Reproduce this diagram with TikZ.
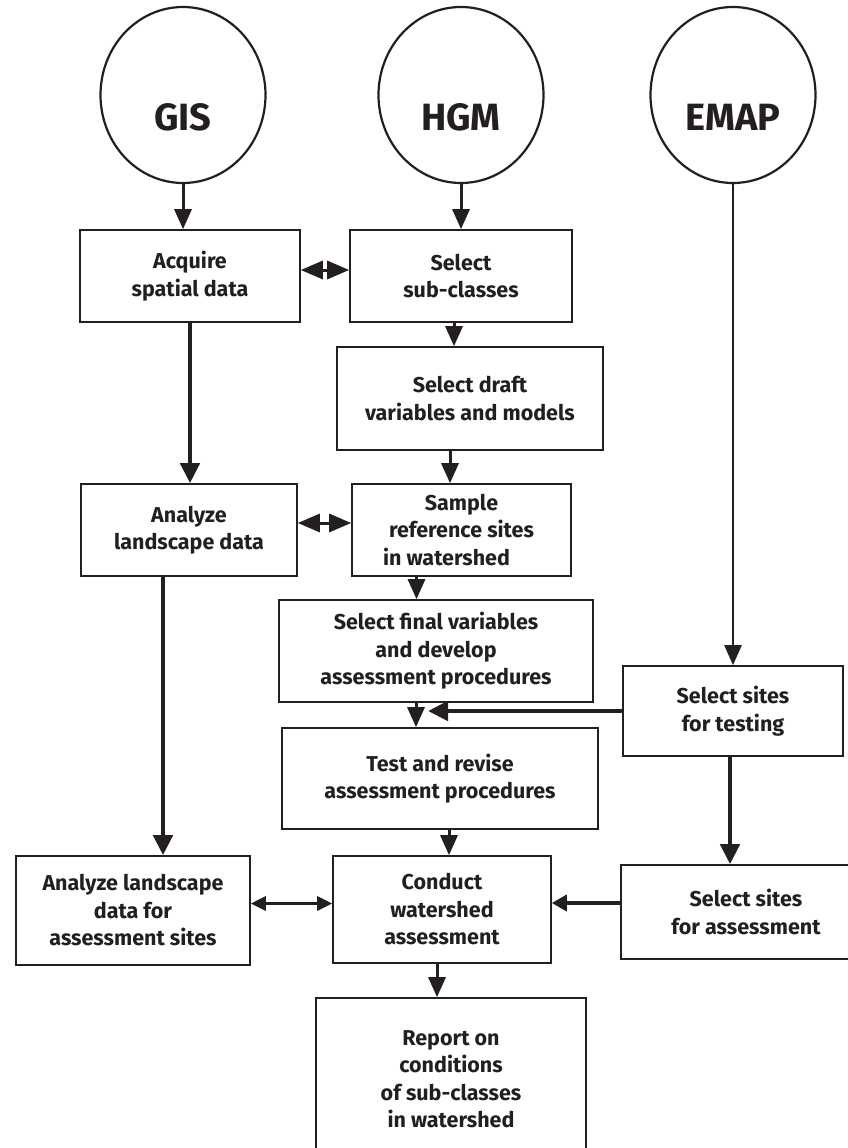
\documentclass[tikz,border=0pt]{standalone}
\usepackage{fontspec}
\setmainfont{Fira Sans}
\usetikzlibrary{arrows.meta,shapes.geometric}
\definecolor{ink}{HTML}{231F20}
\begin{document}
\begin{tikzpicture}[x=1pt,y=-1pt,
  box/.style={draw=ink,line width=1.6pt,rectangle,inner sep=0pt,align=center,
    font=\bfseries\fontsize{21.5}{27.5}\selectfont,text=ink},
  src/.style={draw=ink,line width=2.2pt,ellipse,inner sep=0pt,
    minimum width=165pt,minimum height=176pt},
  srclabel/.style={font=\bfseries\fontsize{38}{40}\selectfont,text=ink,yshift=-22pt},
  flow/.style={draw=ink,line width=3pt,-{Triangle[length=20pt,width=17pt]}},
  flowthin/.style={draw=ink,line width=2.4pt,-{Triangle[length=20pt,width=17pt]}},
  flowthick/.style={draw=ink,line width=4.5pt,-{Triangle[length=20pt,width=19pt]}},
  flowthickshort/.style={draw=ink,line width=4.5pt,-{Triangle[length=15pt,width=16pt]}},
  dbl/.style={draw=ink,line width=3pt,{Triangle[length=22pt,width=18pt]}-{Triangle[length=22pt,width=18pt]}},
  dblsmall/.style={draw=ink,line width=3pt,{Triangle[length=15pt,width=14pt]}-{Triangle[length=15pt,width=14pt]}}
]
\useasboundingbox (0,0) rectangle (848,1148);
\fill[white] (0,0) rectangle (848,1148);
\clip (0,0) rectangle (848,1148);

% sources
\node[src,label={[srclabel]center:GIS}] (gis) at (183,95) {};
\node[src,label={[srclabel]center:HGM}] (hgm) at (461,95) {};
\node[src,label={[srclabel]center:EMAP}] (emap) at (733,95) {};

% boxes
\node[box,minimum width=220pt,minimum height=92pt] (acq) at (190,276) {Acquire\\spatial data};
\node[box,minimum width=222pt,minimum height=92pt] (sub) at (461,276) {Select\\sub-classes};
\node[box,minimum width=266pt,minimum height=103pt] (draft) at (470,398.5) {Select draft\\variables and models};
\node[box,minimum width=216pt,minimum height=92pt] (ald) at (189,530) {Analyze\\landscape data};
\node[box,minimum width=219pt,minimum height=92pt] (samp) at (461.5,530) {Sample\\reference sites\\in watershed\hspace*{30pt}};
\node[box,minimum width=314pt,minimum height=102pt] (fin) at (436,651) {Select final variables\\and develop\\assessment procedures};
\node[box,minimum width=220pt,minimum height=90pt] (sst) at (733,711) {Select sites\\for testing};
\node[box,minimum width=316pt,minimum height=101pt] (test) at (440,778.5) {Test and revise\\assessment procedures};
\node[box,minimum width=234pt,minimum height=109pt] (alda) at (133,910.5) {Analyze landscape\\data for\\assessment sites};
\node[box,minimum width=218pt,minimum height=107pt] (cond) at (442,909.5) {Conduct\\watershed\\assessment};
\node[box,minimum width=250pt,minimum height=94pt] (ssa) at (746,912) {Select sites\\for assessment};
\node[box,minimum width=270pt,minimum height=162pt] (rep) at (451,1079) {Report on\\conditions\\of sub-classes\\in watershed};

% connectors
\draw[flow] (gis.south) -- (gis.south |- acq.north);
\draw[flow] (hgm.south) -- (hgm.south |- sub.north);
\draw[dbl] ([yshift=6pt]acq.east) -- ([yshift=6pt]sub.west);
\draw[flow] ([xshift=-7pt]sub.south) -- ([xshift=-7pt]sub.south |- draft.north);
\draw[flowthick] (acq.south) -- (acq.south |- ald.north);
\draw[flow] ([xshift=-20pt]draft.south) -- ([xshift=-20pt]draft.south |- samp.north);
\draw[dbl] ([yshift=7pt]ald.east) -- ([yshift=7pt]samp.west);
\draw[flow] ([xshift=-45pt]samp.south) -- ([xshift=-45pt]samp.south |- fin.north);
\draw[flowthin] (emap.south) -- (emap.south |- sst.north);
\draw[flow] ([xshift=-20pt]fin.south) -- ([xshift=-20pt]fin.south |- test.north);
\coordinate (merge) at (428,711);
\draw[flowthick] (sst.west) -- (merge);
\draw[flowthick] ([xshift=-26pt]ald.south) -- ([xshift=-26pt]ald.south |- alda.north);
\draw[flow] ([xshift=7pt]cond.north |- test.south) -- ([xshift=7pt]cond.north);
\draw[dblsmall] ([yshift=7pt]alda.east) -- ([yshift=7pt]alda.east -| cond.west);
\draw[flowthick] ([xshift=-3pt]sst.south) -- ([xshift=-3pt]sst.south |- ssa.north);
\draw[flowthickshort] ([yshift=9pt]ssa.west) -- ([yshift=9pt]ssa.west -| cond.east);
\draw[flow] ([xshift=-5pt]cond.south) -- ([xshift=-5pt]cond.south |- rep.north);
\end{tikzpicture}
\end{document}
